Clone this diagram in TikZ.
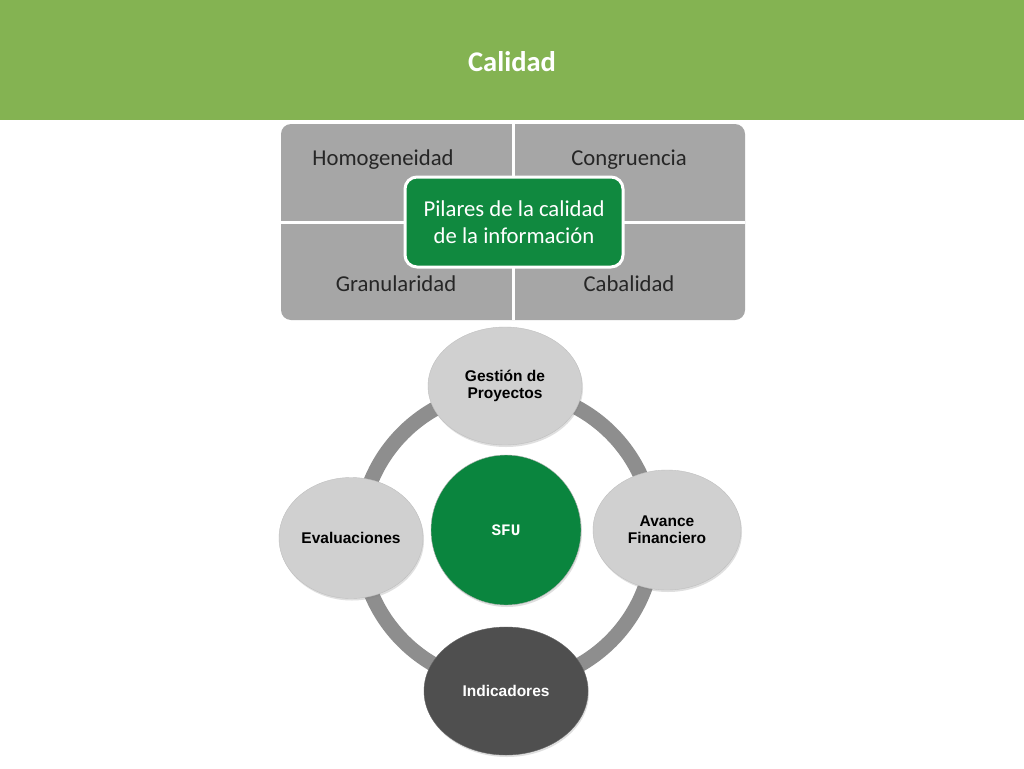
\documentclass[tikz,border=0pt]{standalone}
\usepackage{fontspec}
\setmainfont{Carlito}
\newfontfamily\arialfont{Liberation Sans}
\newfontfamily\sfumono{Liberation Mono}
\usepackage{tikz}
\usetikzlibrary{calc,shadows}
\definecolor{headgreen}{HTML}{84B352}
\definecolor{pilargray}{HTML}{A6A6A6}
\definecolor{pilargreen}{HTML}{10893F}
\definecolor{sfugreen}{HTML}{0A853E}
\definecolor{ovalgray}{HTML}{D0D0D0}
\definecolor{ovaldark}{HTML}{4F4F4F}
\definecolor{ringgray}{HTML}{8E8E8E}
\tikzset{
  pilar/.style = {font=\fontsize{22.7}{27}\selectfont, text=black!85},
  oval/.style = {ellipse, fill=ovalgray, draw=black!25, line width=0.4pt, inner sep=0pt,
                 align=center, font=\arialfont\bfseries\fontsize{15.5}{17}\selectfont,
                 drop shadow={opacity=0.25, shadow xshift=1pt, shadow yshift=-2pt}}
}
\usetikzlibrary{shapes.geometric}
\begin{document}
\begin{tikzpicture}[x=1pt, y=-1pt]
            \useasboundingbox (0,0) rectangle (1024,768);
            \fill[white] (0,0) rectangle (1024,768);

            % encabezado
            \fill[headgreen] (0,0) rectangle (1024,120);
            \node (titulo) at (512,62) [text=white, font=\bfseries\fontsize{28.5}{32}\selectfont] {Calidad};

            % pilares
            \fill[pilargray, rounded corners=10pt] (281,124) rectangle (745,320);
            \draw[white, line width=3pt] (513,124) -- (513,320);
            \draw[white, line width=3pt] (281,222) -- (745,222);
            \node (homog) at (383,160) [pilar] {Homogeneidad};
            \node (congr) at (629,160) [pilar] {Congruencia};
            \node (granu) at (396,284) [pilar] {Granularidad};
            \node (cabal) at (629,284) [pilar] {Cabalidad};
            \node (pilares) at (514,222) [draw=white, line width=3pt, fill=pilargreen, rounded corners=12pt,
                minimum width=218pt, minimum height=90pt, align=center, text=white,
                font=\fontsize{22.7}{27}\selectfont] {Pilares de la calidad\\de la información};

            % ciclo
            \draw[ringgray, line width=15pt] (507,537) circle (147pt);
            \node (sfu) at (506,530) [circle, fill=sfugreen, draw=black!30, minimum size=150pt, inner sep=0pt,
                drop shadow={opacity=0.25, shadow xshift=1pt, shadow yshift=-2pt}] {};
            \node at (sfu) [text=white, font=\sfumono\bfseries\fontsize{16}{18}\selectfont] {SFU};
            \node (gestion) at (505,386) [oval, minimum width=154pt, minimum height=118pt] {Gestión de\\Proyectos};
            \node (avance) at (667,530) [oval, minimum width=148pt, minimum height=120pt] {Avance\\Financiero};
            \node (evalua) at (351,538) [oval, minimum width=144pt, minimum height=121pt] {Evaluaciones};
            \node (indica) at (506,691) [oval, fill=ovaldark, text=white, draw=black!60, minimum width=164pt, minimum height=128pt] {Indicadores};
          \end{tikzpicture}
\end{document}
